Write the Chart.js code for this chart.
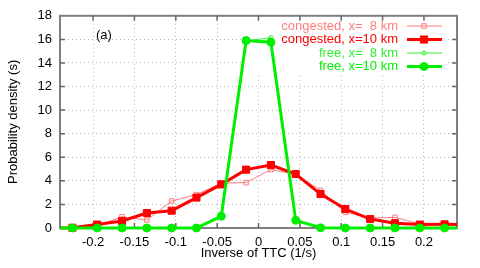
<!DOCTYPE html>
<html>
<head>
<meta charset="utf-8">
<script src="https://cdn.jsdelivr.net/npm/chart.js@4/dist/chart.umd.min.js"></script>
<style>
  html, body { margin: 0; padding: 0; background: #fff; }
  #box { width: 480px; height: 268px; }
</style>
</head>
<body>
<div id="box"><canvas id="mychart"></canvas></div>
<script>
// bin centres of the inverse TTC histogram (1/s)
let bins = [-0.255, -0.225, -0.195, -0.165, -0.135, -0.105, -0.075, -0.045, -0.015,
            0.015, 0.045, 0.075, 0.105, 0.135, 0.165, 0.195, 0.225, 0.255];

let cong8  = [0, 0.02, 0.2, 0.95, 0.68, 2.29, 2.83, 3.81, 3.85, 4.95, 4.55, 3.19, 1.33, 0.85, 0.9, 0.35, 0.25, 0.25];
let cong10 = [0, 0.02, 0.29, 0.6, 1.27, 1.47, 2.58, 3.7, 4.95, 5.34, 4.58, 2.88, 1.61, 0.76, 0.4, 0.29, 0.31, 0.3];
let free8  = [0, 0, 0, 0, 0, 0, 0, 0.9, 15.85, 16.15, 0.6, 0.02, 0, 0, 0, 0, 0, 0];
let free10 = [0, 0, 0, 0, 0, 0, 0, 1.0, 15.9, 15.76, 0.65, 0.02, 0, 0, 0, 0, 0, 0];

let xTicks = [-0.2, -0.15, -0.1, -0.05, 0, 0.05, 0.1, 0.15, 0.2];
let yTicks = [0, 2, 4, 6, 8, 10, 12, 14, 16, 18];

const FONT = 'Liberation Sans, Arial, sans-serif';

function pts(vals) {
  return bins.map((b, i) => ({x: b, y: vals[i]}));
}

let clipSides = {left: 0, right: 0, top: 0, bottom: 8};

// order: later series on top, like gnuplot
let datasets = [
  {
    label: 'congested, x=  8 km',
    data: pts(cong8),
    order: 3,
    borderColor: '#ff7c7c',
    backgroundColor: 'rgba(0,0,0,0)',
    borderWidth: 1,
    pointStyle: 'rect',
    pointRadius: 3.2,
    pointBorderWidth: 1,
    pointBorderColor: '#ff7c7c',
    pointBackgroundColor: 'rgba(0,0,0,0)',
    tension: 0,
    clip: clipSides
  },
  {
    label: 'congested, x=10 km',
    data: pts(cong10),
    order: 2,
    borderColor: '#ff0000',
    backgroundColor: '#ff0000',
    borderWidth: 3,
    pointStyle: 'rect',
    pointRadius: 5,
    pointBorderWidth: 1,
    pointBorderColor: '#ff0000',
    pointBackgroundColor: '#ff0000',
    tension: 0,
    clip: clipSides
  },
  {
    label: 'free, x=  8 km',
    data: pts(free8),
    order: 1,
    borderColor: '#33ee33',
    backgroundColor: 'rgba(0,0,0,0)',
    borderWidth: 1,
    pointStyle: 'circle',
    pointRadius: 2,
    pointBorderWidth: 1,
    pointBorderColor: '#33ee33',
    pointBackgroundColor: 'rgba(0,0,0,0)',
    tension: 0,
    clip: clipSides
  },
  {
    label: 'free, x=10 km',
    data: pts(free10),
    order: 0,
    borderColor: '#00ee00',
    backgroundColor: '#00ee00',
    borderWidth: 3,
    pointStyle: 'circle',
    pointRadius: 4,
    pointBorderWidth: 1,
    pointBorderColor: '#00ee00',
    pointBackgroundColor: '#00ee00',
    tension: 0,
    clip: clipSides
  }
];

// gnuplot-like frame, inward ticks, opaque key box
const frame = {
  id: 'frame',
  beforeDatasetsDraw(chart) {
    const {ctx, chartArea: a, scales: {x, y}} = chart;
    ctx.save();
    ctx.fillStyle = '#fff';
    ctx.fillRect(242, a.top, 448 - 242, 73 - a.top);
    ctx.strokeStyle = '#808080';
    ctx.lineWidth = 2;
    ctx.strokeRect(a.left, a.top, a.right - a.left, a.bottom - a.top);
    ctx.strokeStyle = '#666';
    ctx.lineWidth = 1.5;
    ctx.beginPath();
    xTicks.forEach(v => {
      const px = x.getPixelForValue(v);
      ctx.moveTo(px, a.top); ctx.lineTo(px, a.top + 5);
      ctx.moveTo(px, a.bottom); ctx.lineTo(px, a.bottom - 5);
    });
    yTicks.slice(1, -1).forEach(v => {
      const py = y.getPixelForValue(v);
      ctx.moveTo(a.left, py); ctx.lineTo(a.left + 5, py);
      ctx.moveTo(a.right, py); ctx.lineTo(a.right - 5, py);
    });
    ctx.stroke();
    ctx.restore();
  },
  afterDraw(chart) {
    const {ctx} = chart;
    ctx.save();
    ctx.font = '13px ' + FONT;
    ctx.textBaseline = 'middle';
    ctx.fillStyle = '#000';
    ctx.textAlign = 'left';
    ctx.fillText('(a)', 96, 35);
    let rows = [26, 39.5, 53, 66.5];
    chart.data.datasets.forEach((ds, i) => {
      const yy = rows[i];
      ctx.fillStyle = ds.borderColor;
      ctx.textAlign = 'right';
      ctx.fillText(ds.label, 398, yy);
      ctx.strokeStyle = ds.borderColor;
      ctx.lineWidth = ds.borderWidth;
      ctx.beginPath();
      ctx.moveTo(407, yy); ctx.lineTo(442, yy);
      ctx.stroke();
      ctx.fillStyle = ds.pointBackgroundColor;
      ctx.strokeStyle = ds.pointBorderColor;
      ctx.lineWidth = ds.pointBorderWidth;
      ctx.beginPath();
      if (ds.pointStyle === 'rect') {
        const s = Math.SQRT1_2 * ds.pointRadius;
        ctx.rect(424 - s, yy - s, 2 * s, 2 * s);
      } else {
        ctx.arc(424, yy, ds.pointRadius, 0, Math.PI * 2);
      }
      ctx.fill();
      ctx.stroke();
    });
    ctx.restore();
  }
};

function fmt(v) {
  let r = Math.round(v * 100) / 100;
  if (Math.abs(r) < 1e-9) return '0';
  return String(r);
}

function grafico(ctx) {
  return new Chart(ctx, {
    type: 'line',
    data: {datasets: datasets},
    plugins: [frame],
    options: {
      responsive: true,
      maintainAspectRatio: false,
      animation: false,
      layout: {padding: {top: 15, right: 23, left: 0, bottom: 0}},
      plugins: {legend: {display: false}, tooltip: {enabled: false}},
      scales: {
        x: {
          type: 'linear',
          min: -0.24,
          max: 0.24,
          afterFit: s => { s.height = 40; },
          afterBuildTicks: s => { s.ticks = xTicks.map(v => ({value: v})); },
          ticks: {
            callback: v => fmt(v),
            color: '#000',
            padding: 7,
            maxRotation: 0,
            font: {family: FONT, size: 13}
          },
          grid: {color: '#b4b4b4', lineWidth: 1, drawTicks: false},
          border: {display: false, dash: [1, 3]},
          title: {
            display: true,
            text: 'Inverse of TTC (1/s)',
            color: '#000',
            font: {family: FONT, size: 13},
            padding: {top: 0, bottom: 7}
          }
        },
        y: {
          min: 0,
          max: 18,
          afterFit: s => { s.width = 60; },
          afterBuildTicks: s => { s.ticks = yTicks.map(v => ({value: v})); },
          ticks: {
            color: '#000',
            padding: 8,
            font: {family: FONT, size: 13}
          },
          grid: {color: '#b4b4b4', lineWidth: 1, drawTicks: false},
          border: {display: false, dash: [1, 3]},
          title: {
            display: true,
            text: 'Probability density (s)',
            color: '#000',
            font: {family: FONT, size: 13},
            padding: {top: 6, bottom: 0}
          }
        }
      }
    }
  });
}

let ctx = document.getElementById('mychart');
let chart = grafico(ctx);
</script>
</body>
</html>
